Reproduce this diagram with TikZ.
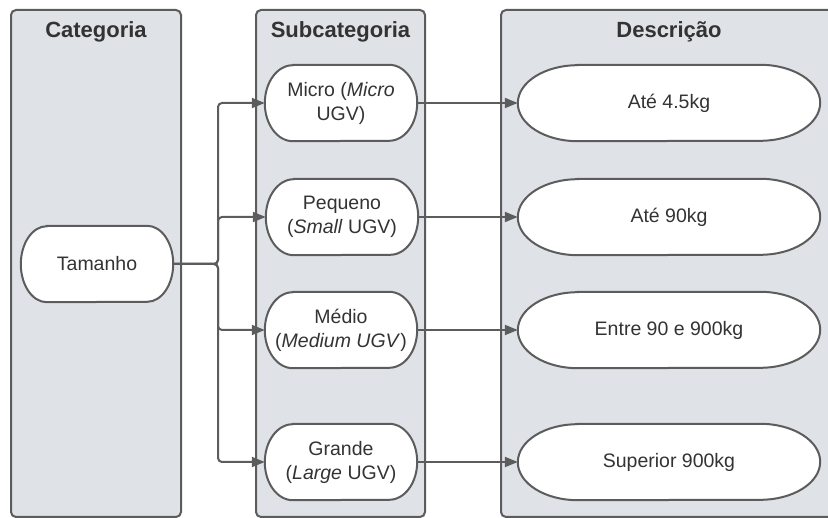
\documentclass[tikz,border=0pt]{standalone}
\usepackage{fontspec}
\setmainfont{Liberation Sans}
\usetikzlibrary{arrows.meta,calc}
\definecolor{lanefill}{HTML}{DFE2E7}
\definecolor{edgecol}{HTML}{5C5C5C}
\definecolor{txtcol}{HTML}{333333}
\pgfdeclarelayer{lanes}
\pgfdeclarelayer{shapes}
\pgfsetlayers{lanes,shapes,main}
\newcommand\stadoutline[3]{%
  \draw[shapeline] ($(#1.north west)+(#2,0)$) -- ($(#1.north east)+(-#2,0)$)
    arc[start angle=90,end angle=-90,x radius=#2pt,y radius=#3pt]
    -- ($(#1.south west)+(#2,0)$)
    arc[start angle=270,end angle=90,x radius=#2pt,y radius=#3pt] -- cycle;}
\begin{document}
\begin{tikzpicture}[x=1pt,y=-1pt,
  lane/.style={draw=edgecol,fill=lanefill,line width=2pt,rounded corners=5pt},
  head/.style={font=\bfseries\fontsize{22}{26}\selectfont,text=txtcol},
  shapeline/.style={draw=edgecol,fill=white,line width=2pt},
  box/.style={draw=none,minimum width=152pt,minimum height=76pt,align=center,inner sep=0pt,
    font=\fontsize{19.5}{24}\selectfont,text=txtcol},
  ellbox/.style={box,minimum width=302pt},
  conn/.style={draw=edgecol,line width=2pt,-{Triangle[length=13pt,width=10pt]},rounded corners=4pt}]
\useasboundingbox (0,0) rectangle (828,518);
\clip (0,0) rectangle (828,518);
\begin{pgfonlayer}{lanes}
\draw[lane] (11,10) rectangle (181,517);
\draw[lane] (256,10) rectangle (425,517);
\draw[lane] (501,10) rectangle (837,517);
\end{pgfonlayer}
\node[head] (hcat) at (96,32) {Categoria};
\node[head] (hsub) at (340.5,32) {Subcategoria};
\node[head] (hdesc) at (669,32) {Descrição};

\node[box] (tam) at (97,264) {Tamanho};
\node[box] (micro) at (341,103) {Micro (\textit{Micro}\\UGV)};
\node[box] (peq) at (342,217) {Pequeno\\(\textit{Small} UGV)};
\node[box] (med) at (341,330) {Médio\\(\textit{Medium UGV})};
\node[box] (gra) at (341,462) {Grande\\(\textit{Large} UGV)};

\node[ellbox] (d1) at (669,103) {Até 4.5kg};
\node[ellbox] (d2) at (669,217) {Até 90kg};
\node[ellbox] (d3) at (669,330) {Entre 90 e 900kg};
\node[ellbox] (d4) at (669,462) {Superior 900kg};

\begin{pgfonlayer}{shapes}
\stadoutline{tam}{26}{38}
\stadoutline{micro}{28}{38}
\stadoutline{peq}{28}{38}
\stadoutline{med}{28}{38}
\stadoutline{gra}{28}{38}
\stadoutline{d1}{60}{38}
\stadoutline{d2}{60}{38}
\stadoutline{d3}{60}{38}
\stadoutline{d4}{60}{38}
\end{pgfonlayer}

\coordinate (bus) at (218,264);
\draw[conn] (tam.east) -- (bus) |- (micro.west);
\draw[conn] (tam.east) -- (bus) |- (peq.west);
\draw[conn] (tam.east) -- (bus) |- (med.west);
\draw[conn] (tam.east) -- (bus) |- (gra.west);

\draw[conn] (micro.east) -- (d1.west);
\draw[conn] (peq.east) -- (d2.west);
\draw[conn] (med.east) -- (d3.west);
\draw[conn] (gra.east) -- (d4.west);
\end{tikzpicture}
\end{document}
